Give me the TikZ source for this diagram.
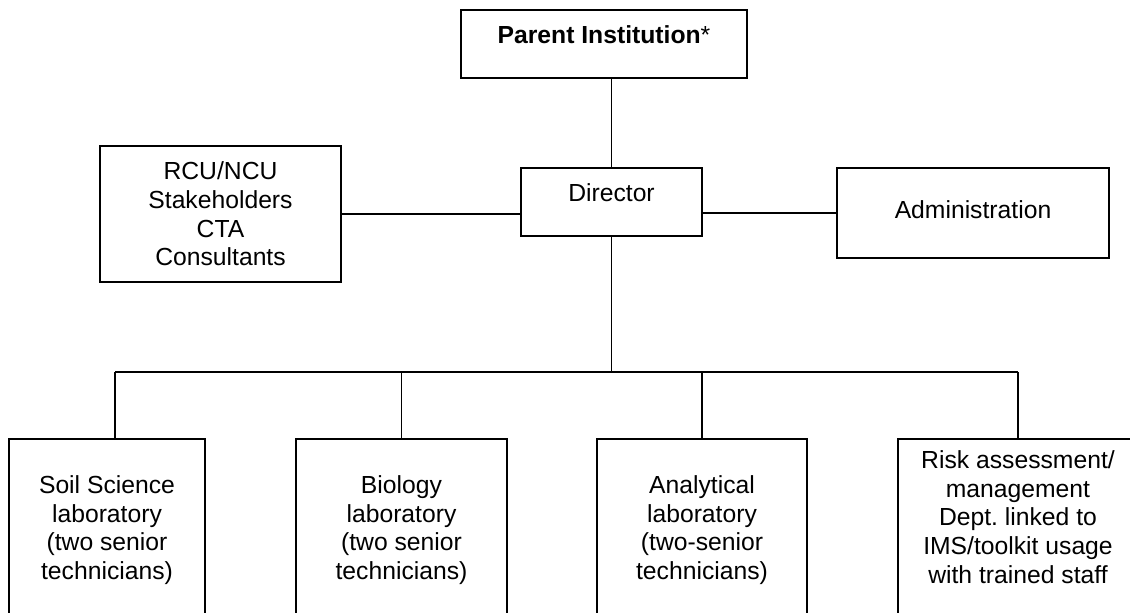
\documentclass[tikz,border=0pt]{standalone}
\usepackage{fontspec}
\setmainfont{Liberation Sans}
\usetikzlibrary{positioning}
\frenchspacing

\tikzstyle{box} = [draw, line width=1.7pt, rectangle, inner sep=0pt]
\tikzstyle{lbl} = [align=center, inner sep=0pt, font=\fontsize{24.7}{28.7}\selectfont]
\tikzstyle{wire} = [line width=1.7pt]

\begin{document}
\begin{tikzpicture}[x=1pt, y=-1pt]

\useasboundingbox (0,0) rectangle (1130,613);
\clip (0,0) rectangle (1130,613);

% Top of the chart
\node (parent) [box, minimum width=286, minimum height=68] at (604,44) {};
\node (parenttxt) [lbl] at (604,35) {\textbf{Parent Institution}*};
\node (dir) [box, minimum width=181, minimum height=68] at (611.5,202) {};
\node (dirtxt) [lbl] at (611.5,193) {Director};

% Side boxes
\node (partners) [box, minimum width=241, minimum height=136] at (220.5,214) {};
\node (partnerstxt) [lbl] at (220.5,214) {RCU/NCU\\Stakeholders\\CTA\\Consultants};
\node (admin) [box, minimum width=272, minimum height=90] at (973,213) {};
\node (admintxt) [lbl] at (973,210) {Administration};

% Laboratories (cut off at the bottom)
\node (soil) [box, minimum width=196, minimum height=221] at (107,549.5) {};
\node (soiltxt) [lbl] at (107,530) {Soil Science\\laboratory\\(two senior\\technicians)};
\node (bio) [box, minimum width=211, minimum height=221] at (401.5,549.5) {};
\node (biotxt) [lbl] at (401.5,530) {Biology\\laboratory\\(two senior\\technicians)};
\node (anal) [box, minimum width=210, minimum height=221] at (702,549.5) {};
\node (analtxt) [lbl] at (702,530) {Analytical\\laboratory\\(two-senior\\technicians)};
\node (risk) [box, minimum width=240, minimum height=221] at (1018,549.5) {};
\node (risktxt) [lbl] at (1018,517) {Risk assessment/\\management\\Dept. linked to\\IMS/toolkit usage\\with trained staff};

% Links
\coordinate (bar) at (612,372);
\draw [wire] (dir.north) -- (dir.north |- parent.south);
\draw [wire] (partners.east) -- (partners.east -| dir.west);
\draw [wire] (admin.west) -- (admin.west -| dir.east);
\draw [wire] (dir.south) -- (dir.south |- bar);
\draw [wire] ([xshift=8]soil.north |- bar) -- (risk.north |- bar);
\draw [wire] ([xshift=8]soil.north) -- ([xshift=8]soil.north |- bar);
\foreach \lab in {bio,anal,risk}
  \draw [wire] (\lab.north) -- (\lab.north |- bar);

\end{tikzpicture}
\end{document}
